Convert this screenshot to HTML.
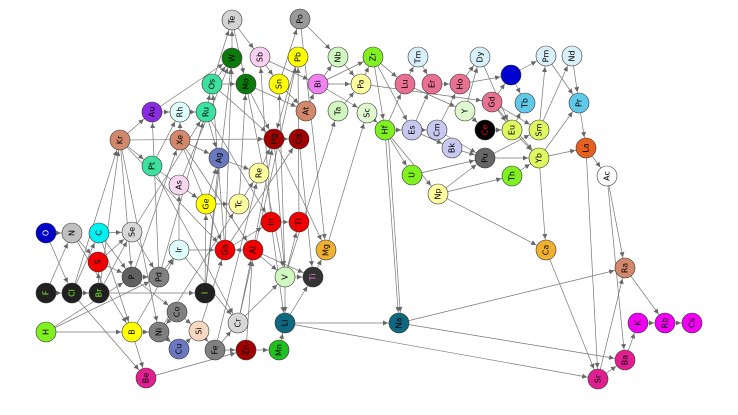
<!DOCTYPE html>
<html><head><meta charset="utf-8"><style>
html,body{margin:0;padding:0;background:#fff;width:738px;height:415px;overflow:hidden}
svg{display:block}
text{font-family:"DejaVu Sans","Liberation Sans",sans-serif;font-size:8px;text-anchor:middle;dominant-baseline:central}
</style></head><body>
<svg width="738" height="415" viewBox="0 0 738 415">
<defs><marker id="a" markerUnits="userSpaceOnUse" markerWidth="20" markerHeight="8" refX="11" refY="2.5" orient="auto" overflow="visible" style="overflow:visible"><path d="M-5,0 L0,2.5 L-5,5 z" fill="#666"/></marker></defs>
<g stroke="#777" stroke-width="0.7" marker-end="url(#a)">
<line x1="120" y1="140" x2="152" y2="112"/><line x1="120" y1="140" x2="274" y2="139"/><line x1="120" y1="140" x2="152" y2="166"/><line x1="120" y1="140" x2="225" y2="250"/><line x1="120" y1="140" x2="159" y2="332"/><line x1="120" y1="140" x2="132" y2="277"/>
<line x1="72" y1="293" x2="120" y2="140"/><line x1="99" y1="293" x2="120" y2="140"/>
<line x1="180" y1="140" x2="180" y2="112"/><line x1="180" y1="140" x2="219" y2="158"/><line x1="180" y1="140" x2="253" y2="250"/>
<line x1="152" y1="112" x2="180" y2="112"/><line x1="152" y1="112" x2="232" y2="58"/><line x1="180" y1="112" x2="206" y2="112"/><line x1="206" y1="112" x2="212" y2="84"/><line x1="212" y1="84" x2="232" y2="58"/><line x1="212" y1="84" x2="246" y2="84"/><line x1="232" y1="58" x2="232" y2="20"/><line x1="212" y1="84" x2="232" y2="20"/><line x1="206" y1="112" x2="219" y2="158"/>
<line x1="219" y1="158" x2="259" y2="173"/><line x1="206" y1="204" x2="219" y2="158"/><line x1="152" y1="166" x2="180" y2="112"/><line x1="152" y1="166" x2="206" y2="204"/><line x1="179" y1="185" x2="206" y2="204"/><line x1="179" y1="185" x2="232" y2="58"/>
<line x1="206" y1="204" x2="239" y2="204"/><line x1="239" y1="204" x2="259" y2="173"/><line x1="259" y1="173" x2="274" y2="139"/><line x1="274" y1="139" x2="299" y2="139"/><line x1="246" y1="84" x2="274" y2="139"/><line x1="246" y1="84" x2="306" y2="111"/><line x1="212" y1="84" x2="274" y2="139"/><line x1="232" y1="20" x2="260" y2="57"/><line x1="232" y1="20" x2="246" y2="84"/>
<line x1="260" y1="57" x2="279" y2="84"/><line x1="260" y1="57" x2="318" y2="84"/><line x1="279" y1="84" x2="300" y2="19"/><line x1="300" y1="19" x2="338" y2="57"/><line x1="300" y1="19" x2="326" y2="250"/><line x1="279" y1="84" x2="306" y2="111"/><line x1="298" y1="57" x2="274" y2="139"/><line x1="299" y1="222" x2="298" y2="57"/>
<line x1="306" y1="111" x2="318" y2="84"/><line x1="318" y1="84" x2="338" y2="57"/><line x1="318" y1="84" x2="361" y2="84"/><line x1="318" y1="84" x2="367" y2="113"/><line x1="338" y1="57" x2="361" y2="84"/><line x1="361" y1="84" x2="373" y2="57"/><line x1="338" y1="111" x2="361" y2="84"/><line x1="367" y1="113" x2="385" y2="130"/><line x1="373" y1="57" x2="405" y2="84"/><line x1="373" y1="57" x2="385" y2="130"/><line x1="373" y1="57" x2="412" y2="130"/><line x1="318" y1="84" x2="373" y2="57"/>
<line x1="405" y1="84" x2="418" y2="57"/><line x1="418" y1="57" x2="432" y2="84"/><line x1="432" y1="84" x2="460" y2="84"/><line x1="460" y1="84" x2="480" y2="57"/><line x1="405" y1="84" x2="465" y2="111"/><line x1="361" y1="84" x2="492" y2="102"/><line x1="465" y1="111" x2="485" y2="130"/><line x1="465" y1="111" x2="480" y2="57"/><line x1="385" y1="130" x2="405" y2="84"/><line x1="385" y1="130" x2="412" y2="130"/><line x1="412" y1="130" x2="437" y2="130"/><line x1="412" y1="130" x2="432" y2="84"/><line x1="437" y1="130" x2="460" y2="84"/><line x1="412" y1="130" x2="452" y2="148"/><line x1="452" y1="148" x2="485" y2="158"/><line x1="437" y1="130" x2="485" y2="158"/>
<line x1="485" y1="130" x2="512" y2="130"/><line x1="385" y1="130" x2="412" y2="175"/><line x1="385" y1="130" x2="438" y2="194"/><line x1="412" y1="175" x2="485" y2="158"/><line x1="438" y1="194" x2="485" y2="158"/><line x1="438" y1="194" x2="512" y2="176"/><line x1="485" y1="158" x2="539" y2="158"/><line x1="485" y1="158" x2="539" y2="130"/><line x1="512" y1="176" x2="539" y2="158"/><line x1="539" y1="158" x2="586" y2="148"/><line x1="539" y1="158" x2="579" y2="103"/><line x1="539" y1="130" x2="546" y2="56"/><line x1="539" y1="130" x2="572" y2="56"/><line x1="546" y1="56" x2="579" y2="103"/><line x1="572" y1="56" x2="579" y2="103"/><line x1="579" y1="103" x2="586" y2="148"/><line x1="586" y1="148" x2="607" y2="176"/><line x1="511" y1="75" x2="546" y2="56"/><line x1="511" y1="75" x2="525" y2="103"/><line x1="460" y1="84" x2="511" y2="75"/><line x1="492" y1="102" x2="511" y2="75"/><line x1="492" y1="102" x2="512" y2="130"/><line x1="492" y1="102" x2="539" y2="130"/><line x1="492" y1="102" x2="539" y2="158"/><line x1="512" y1="130" x2="525" y2="103"/><line x1="512" y1="130" x2="539" y2="158"/><line x1="480" y1="57" x2="512" y2="130"/>
<line x1="385" y1="130" x2="399" y2="323"/><line x1="388" y1="130" x2="401" y2="323"/><line x1="438" y1="194" x2="546" y2="250"/><line x1="539" y1="158" x2="546" y2="250"/><line x1="586" y1="148" x2="598" y2="379"/><line x1="607" y1="176" x2="625" y2="268"/><line x1="607" y1="176" x2="625" y2="360"/><line x1="625" y1="268" x2="665" y2="323"/><line x1="638" y1="323" x2="665" y2="323"/><line x1="665" y1="323" x2="692" y2="323"/><line x1="625" y1="360" x2="638" y2="323"/><line x1="598" y1="379" x2="625" y2="360"/><line x1="598" y1="379" x2="625" y2="268"/><line x1="546" y1="250" x2="598" y2="379"/><line x1="399" y1="323" x2="625" y2="268"/><line x1="399" y1="323" x2="625" y2="360"/><line x1="285" y1="323" x2="598" y2="379"/><line x1="285" y1="323" x2="399" y2="323"/>
<line x1="285" y1="323" x2="313" y2="277"/><line x1="279" y1="350" x2="285" y2="323"/><line x1="246" y1="350" x2="279" y2="350"/><line x1="285" y1="277" x2="313" y2="277"/><line x1="285" y1="277" x2="285" y2="323"/><line x1="253" y1="250" x2="313" y2="277"/><line x1="253" y1="250" x2="225" y2="250"/><line x1="225" y1="250" x2="271" y2="222"/><line x1="271" y1="222" x2="299" y2="222"/><line x1="285" y1="277" x2="299" y2="222"/><line x1="271" y1="222" x2="285" y2="323"/><line x1="313" y1="277" x2="326" y2="250"/><line x1="326" y1="250" x2="367" y2="113"/><line x1="299" y1="139" x2="313" y2="277"/><line x1="274" y1="139" x2="285" y2="277"/><line x1="274" y1="139" x2="326" y2="250"/><line x1="285" y1="277" x2="338" y2="111"/><line x1="253" y1="250" x2="285" y2="277"/><line x1="246" y1="84" x2="285" y2="277"/>
<line x1="46" y1="233" x2="72" y2="233"/><line x1="46" y1="233" x2="72" y2="293"/><line x1="72" y1="233" x2="98" y2="262"/><line x1="72" y1="233" x2="132" y2="332"/><line x1="99" y1="233" x2="132" y2="232"/><line x1="99" y1="233" x2="132" y2="277"/><line x1="99" y1="233" x2="132" y2="332"/><line x1="46" y1="293" x2="72" y2="293"/><line x1="46" y1="293" x2="72" y2="233"/><line x1="72" y1="293" x2="99" y2="293"/><line x1="72" y1="293" x2="99" y2="233"/><line x1="72" y1="293" x2="146" y2="378"/><line x1="99" y1="293" x2="98" y2="262"/><line x1="99" y1="293" x2="132" y2="232"/><line x1="99" y1="293" x2="205" y2="293"/><line x1="98" y1="262" x2="132" y2="277"/><line x1="98" y1="262" x2="132" y2="232"/>
<line x1="46" y1="332" x2="132" y2="332"/><line x1="46" y1="332" x2="132" y2="277"/><line x1="46" y1="332" x2="159" y2="277"/><line x1="132" y1="277" x2="159" y2="277"/><line x1="132" y1="232" x2="159" y2="277"/><line x1="159" y1="277" x2="179" y2="250"/><line x1="132" y1="277" x2="177" y2="312"/><line x1="179" y1="250" x2="225" y2="250"/><line x1="179" y1="250" x2="238" y2="323"/><line x1="132" y1="332" x2="146" y2="378"/><line x1="132" y1="332" x2="159" y2="332"/><line x1="132" y1="332" x2="179" y2="250"/><line x1="177" y1="312" x2="159" y2="332"/><line x1="177" y1="312" x2="199" y2="331"/><line x1="159" y1="332" x2="179" y2="349"/><line x1="179" y1="349" x2="199" y2="331"/><line x1="199" y1="331" x2="215" y2="350"/><line x1="215" y1="350" x2="238" y2="323"/><line x1="215" y1="350" x2="246" y2="350"/><line x1="146" y1="378" x2="246" y2="350"/><line x1="199" y1="331" x2="225" y2="250"/><line x1="238" y1="323" x2="285" y2="277"/><line x1="238" y1="323" x2="253" y2="250"/><line x1="205" y1="293" x2="206" y2="204"/><line x1="205" y1="293" x2="219" y2="158"/><line x1="205" y1="293" x2="232" y2="58"/><line x1="215" y1="350" x2="259" y2="173"/><line x1="246" y1="350" x2="253" y2="250"/><line x1="159" y1="332" x2="239" y2="204"/><line x1="132" y1="232" x2="206" y2="112"/><line x1="159" y1="277" x2="152" y2="112"/><line x1="179" y1="250" x2="179" y2="185"/><line x1="152" y1="166" x2="238" y2="323"/>
<line x1="132" y1="277" x2="180" y2="140"/><line x1="159" y1="277" x2="206" y2="112"/><line x1="225" y1="250" x2="212" y2="84"/><line x1="225" y1="250" x2="232" y2="58"/><line x1="239" y1="204" x2="246" y2="84"/><line x1="253" y1="250" x2="274" y2="139"/><line x1="271" y1="222" x2="260" y2="57"/><line x1="285" y1="277" x2="279" y2="84"/><line x1="238" y1="323" x2="298" y2="57"/><line x1="225" y1="250" x2="299" y2="139"/><line x1="180" y1="140" x2="225" y2="250"/><line x1="206" y1="112" x2="271" y2="222"/>
</g>
<g stroke="#333" stroke-width="0.6">
<circle cx="232" cy="20" r="10" fill="#d3d3d3"/><circle cx="232" cy="58" r="10" fill="#0c7a0c"/><circle cx="246" cy="84" r="10" fill="#0c7a0c"/><circle cx="212" cy="84" r="10" fill="#3ee0a0"/><circle cx="152" cy="112" r="10" fill="#8a2be2"/><circle cx="180" cy="112" r="10" fill="#e0ffff"/><circle cx="206" cy="112" r="10" fill="#3ee0a0"/><circle cx="120" cy="140" r="10" fill="#d2886a"/><circle cx="180" cy="140" r="10" fill="#d2886a"/><circle cx="219" cy="158" r="10" fill="#6a78c0"/><circle cx="152" cy="166" r="10" fill="#3ee0a0"/><circle cx="179" cy="185" r="10" fill="#f8d8f0"/><circle cx="206" cy="204" r="10" fill="#ffff00"/><circle cx="239" cy="204" r="10" fill="#ffffa0"/>
<circle cx="300" cy="19" r="10" fill="#999"/><circle cx="260" cy="57" r="10" fill="#f8d0f0"/><circle cx="298" cy="57" r="10" fill="#ffff00"/><circle cx="338" cy="57" r="10" fill="#d0f8c0"/><circle cx="373" cy="57" r="10" fill="#80f020"/><circle cx="418" cy="57" r="10" fill="#d8f0fa"/><circle cx="480" cy="57" r="10" fill="#d8f0fa"/><circle cx="279" cy="84" r="10" fill="#ffff00"/><circle cx="318" cy="84" r="10" fill="#ee82ee"/><circle cx="361" cy="84" r="10" fill="#ffffa0"/><circle cx="405" cy="84" r="10" fill="#e87090"/><circle cx="432" cy="84" r="10" fill="#e87090"/><circle cx="460" cy="84" r="10" fill="#e87090"/><circle cx="306" cy="111" r="10" fill="#d2886a"/><circle cx="338" cy="111" r="10" fill="#d0f8c0"/><circle cx="367" cy="113" r="10" fill="#e0f8d0"/><circle cx="465" cy="111" r="10" fill="#e0f8d0"/><circle cx="274" cy="139" r="10" fill="#a00000"/><circle cx="299" cy="139" r="10" fill="#a00000"/><circle cx="385" cy="130" r="10" fill="#80f020"/><circle cx="412" cy="130" r="10" fill="#c8c8f0"/><circle cx="437" cy="130" r="10" fill="#c8c8f0"/><circle cx="452" cy="148" r="10" fill="#c8c8f0"/><circle cx="485" cy="158" r="10" fill="#666"/><circle cx="485" cy="130" r="10" fill="#000"/><circle cx="259" cy="173" r="10" fill="#ffffa0"/><circle cx="412" cy="175" r="10" fill="#80f020"/><circle cx="438" cy="194" r="10" fill="#ffffa0"/>
<circle cx="546" cy="56" r="10" fill="#d8f0fa"/><circle cx="572" cy="56" r="10" fill="#d8f0fa"/><circle cx="511" cy="75" r="10" fill="#0000d0"/><circle cx="492" cy="102" r="10" fill="#e87090"/><circle cx="525" cy="103" r="10" fill="#60c8e8"/><circle cx="579" cy="103" r="10" fill="#60c8e8"/><circle cx="512" cy="130" r="10" fill="#e0f860"/><circle cx="539" cy="130" r="10" fill="#e0f860"/><circle cx="539" cy="158" r="10" fill="#e0f860"/><circle cx="512" cy="176" r="10" fill="#80f020"/><circle cx="586" cy="148" r="10" fill="#e86020"/><circle cx="607" cy="176" r="10" fill="#fff"/>
<circle cx="46" cy="233" r="10" fill="#0000c8"/><circle cx="72" cy="233" r="10" fill="#c0c0c0"/><circle cx="99" cy="233" r="10" fill="#00f0f0"/><circle cx="132" cy="232" r="10" fill="#d8d8d8"/><circle cx="98" cy="262" r="10" fill="#f00000"/><circle cx="132" cy="277" r="10" fill="#606060"/><circle cx="159" cy="277" r="10" fill="#808080"/><circle cx="179" cy="250" r="10" fill="#e0ffff"/><circle cx="46" cy="293" r="10" fill="#202020"/><circle cx="72" cy="293" r="10" fill="#202020"/><circle cx="99" cy="293" r="10" fill="#202020"/><circle cx="205" cy="293" r="10" fill="#202020"/><circle cx="177" cy="312" r="10" fill="#808080"/><circle cx="225" cy="250" r="10" fill="#f00000"/><circle cx="46" cy="332" r="10" fill="#80f020"/><circle cx="132" cy="332" r="10" fill="#ffff00"/><circle cx="159" cy="332" r="10" fill="#808080"/><circle cx="199" cy="331" r="10" fill="#f8d8c0"/><circle cx="179" cy="349" r="10" fill="#6a78c0"/><circle cx="215" cy="350" r="10" fill="#808080"/><circle cx="238" cy="323" r="10" fill="#d8d8d8"/><circle cx="246" cy="350" r="10" fill="#a00000"/><circle cx="146" cy="378" r="10" fill="#e02090"/>
<circle cx="271" cy="222" r="10" fill="#f00000"/><circle cx="299" cy="222" r="10" fill="#f00000"/><circle cx="253" cy="250" r="10" fill="#f00000"/><circle cx="326" cy="250" r="10" fill="#f0b030"/><circle cx="285" cy="277" r="10" fill="#d0f8c0"/><circle cx="313" cy="277" r="10" fill="#333"/><circle cx="285" cy="323" r="10" fill="#106880"/><circle cx="279" cy="350" r="10" fill="#20c020"/><circle cx="399" cy="323" r="10" fill="#106880"/>
<circle cx="546" cy="250" r="10" fill="#f0b030"/><circle cx="625" cy="268" r="10" fill="#d2886a"/><circle cx="638" cy="323" r="10" fill="#f000f0"/><circle cx="665" cy="323" r="10" fill="#f000f0"/><circle cx="692" cy="323" r="10" fill="#f000f0"/><circle cx="625" cy="360" r="10" fill="#e02090"/><circle cx="598" cy="379" r="10" fill="#e02090"/>
</g>
<g fill="#000">
<text transform="translate(232,20) rotate(-90)">Te</text><text transform="translate(232,58) rotate(-90)">W</text><text transform="translate(246,84) rotate(-90)">Mo</text><text transform="translate(212,84) rotate(-90)">Os</text><text transform="translate(152,112) rotate(-90)">Au</text><text transform="translate(180,112) rotate(-90)">Rh</text><text transform="translate(206,112) rotate(-90)">Ru</text><text transform="translate(120,140) rotate(-90)">Kr</text><text transform="translate(180,140) rotate(-90)">Xe</text><text transform="translate(219,158) rotate(-90)">Ag</text><text transform="translate(152,166) rotate(-90)">Pt</text><text transform="translate(179,185) rotate(-90)">As</text><text transform="translate(206,204) rotate(-90)">Ge</text><text transform="translate(239,204) rotate(-90)">Tc</text>
<text transform="translate(300,19) rotate(-90)">Po</text><text transform="translate(260,57) rotate(-90)">Sb</text><text transform="translate(298,57) rotate(-90)">Pb</text><text transform="translate(338,57) rotate(-90)">Nb</text><text transform="translate(373,57) rotate(-90)">Zr</text><text transform="translate(418,57) rotate(-90)">Tm</text><text transform="translate(480,57) rotate(-90)">Dy</text><text transform="translate(279,84) rotate(-90)">Sn</text><text transform="translate(318,84) rotate(-90)">Bi</text><text transform="translate(361,84) rotate(-90)">Pa</text><text transform="translate(405,84) rotate(-90)">Lu</text><text transform="translate(432,84) rotate(-90)">Er</text><text transform="translate(460,84) rotate(-90)">Ho</text><text transform="translate(306,111) rotate(-90)">At</text><text transform="translate(338,111) rotate(-90)">Ta</text><text transform="translate(367,113) rotate(-90)">Sc</text><text transform="translate(465,111) rotate(-90)">Y</text><text transform="translate(274,139) rotate(-90)">Hg</text><text transform="translate(299,139) rotate(-90)">Cd</text><text transform="translate(385,130) rotate(-90)">Hf</text><text transform="translate(412,130) rotate(-90)">Es</text><text transform="translate(437,130) rotate(-90)">Cm</text><text transform="translate(452,148) rotate(-90)">Bk</text><text transform="translate(485,158) rotate(-90)">Pu</text><text transform="translate(485,130) rotate(-90)" fill="#f00000">Ce</text><text transform="translate(259,173) rotate(-90)">Re</text><text transform="translate(412,175) rotate(-90)">U</text><text transform="translate(438,194) rotate(-90)">Np</text>
<text transform="translate(546,56) rotate(-90)">Pm</text><text transform="translate(572,56) rotate(-90)">Nd</text><text transform="translate(492,102) rotate(-90)">Gd</text><text transform="translate(525,103) rotate(-90)">Tb</text><text transform="translate(579,103) rotate(-90)">Pr</text><text transform="translate(512,130) rotate(-90)">Eu</text><text transform="translate(539,130) rotate(-90)">Sm</text><text transform="translate(539,158) rotate(-90)">Yb</text><text transform="translate(512,176) rotate(-90)">Th</text><text transform="translate(586,148) rotate(-90)">La</text><text transform="translate(607,176) rotate(-90)">Ac</text>
<text transform="translate(46,233) rotate(-90)" fill="#fff">O</text><text transform="translate(72,233) rotate(-90)">N</text><text transform="translate(99,233) rotate(-90)">C</text><text transform="translate(132,232) rotate(-90)">Se</text><text transform="translate(98,262) rotate(-90)">S</text><text transform="translate(132,277) rotate(-90)">P</text><text transform="translate(159,277) rotate(-90)">Pd</text><text transform="translate(179,250) rotate(-90)">Ir</text><text transform="translate(46,293) rotate(-90)" fill="#80f020">F</text><text transform="translate(72,293) rotate(-90)" fill="#80f020">Cl</text><text transform="translate(99,293) rotate(-90)" fill="#80f020">Br</text><text transform="translate(205,293) rotate(-90)" fill="#80f020">I</text><text transform="translate(177,312) rotate(-90)">Co</text><text transform="translate(225,250) rotate(-90)">Ga</text><text transform="translate(46,332) rotate(-90)">H</text><text transform="translate(132,332) rotate(-90)">B</text><text transform="translate(159,332) rotate(-90)">Ni</text><text transform="translate(199,331) rotate(-90)">Si</text><text transform="translate(179,349) rotate(-90)">Cu</text><text transform="translate(215,350) rotate(-90)">Fe</text><text transform="translate(238,323) rotate(-90)">Cr</text><text transform="translate(246,350) rotate(-90)">Zn</text><text transform="translate(146,378) rotate(-90)">Be</text>
<text transform="translate(271,222) rotate(-90)">In</text><text transform="translate(299,222) rotate(-90)">Tl</text><text transform="translate(253,250) rotate(-90)">Al</text><text transform="translate(326,250) rotate(-90)">Mg</text><text transform="translate(285,277) rotate(-90)">V</text><text transform="translate(313,277) rotate(-90)" fill="#e080d0">Ti</text><text transform="translate(285,323) rotate(-90)">Li</text><text transform="translate(279,350) rotate(-90)">Mn</text><text transform="translate(399,323) rotate(-90)">Na</text>
<text transform="translate(546,250) rotate(-90)">Ca</text><text transform="translate(625,268) rotate(-90)">Ra</text><text transform="translate(638,323) rotate(-90)">K</text><text transform="translate(665,323) rotate(-90)">Rb</text><text transform="translate(692,323) rotate(-90)">Cs</text><text transform="translate(625,360) rotate(-90)">Ba</text><text transform="translate(598,379) rotate(-90)">Sr</text>
</g>
</svg>
</body></html>
